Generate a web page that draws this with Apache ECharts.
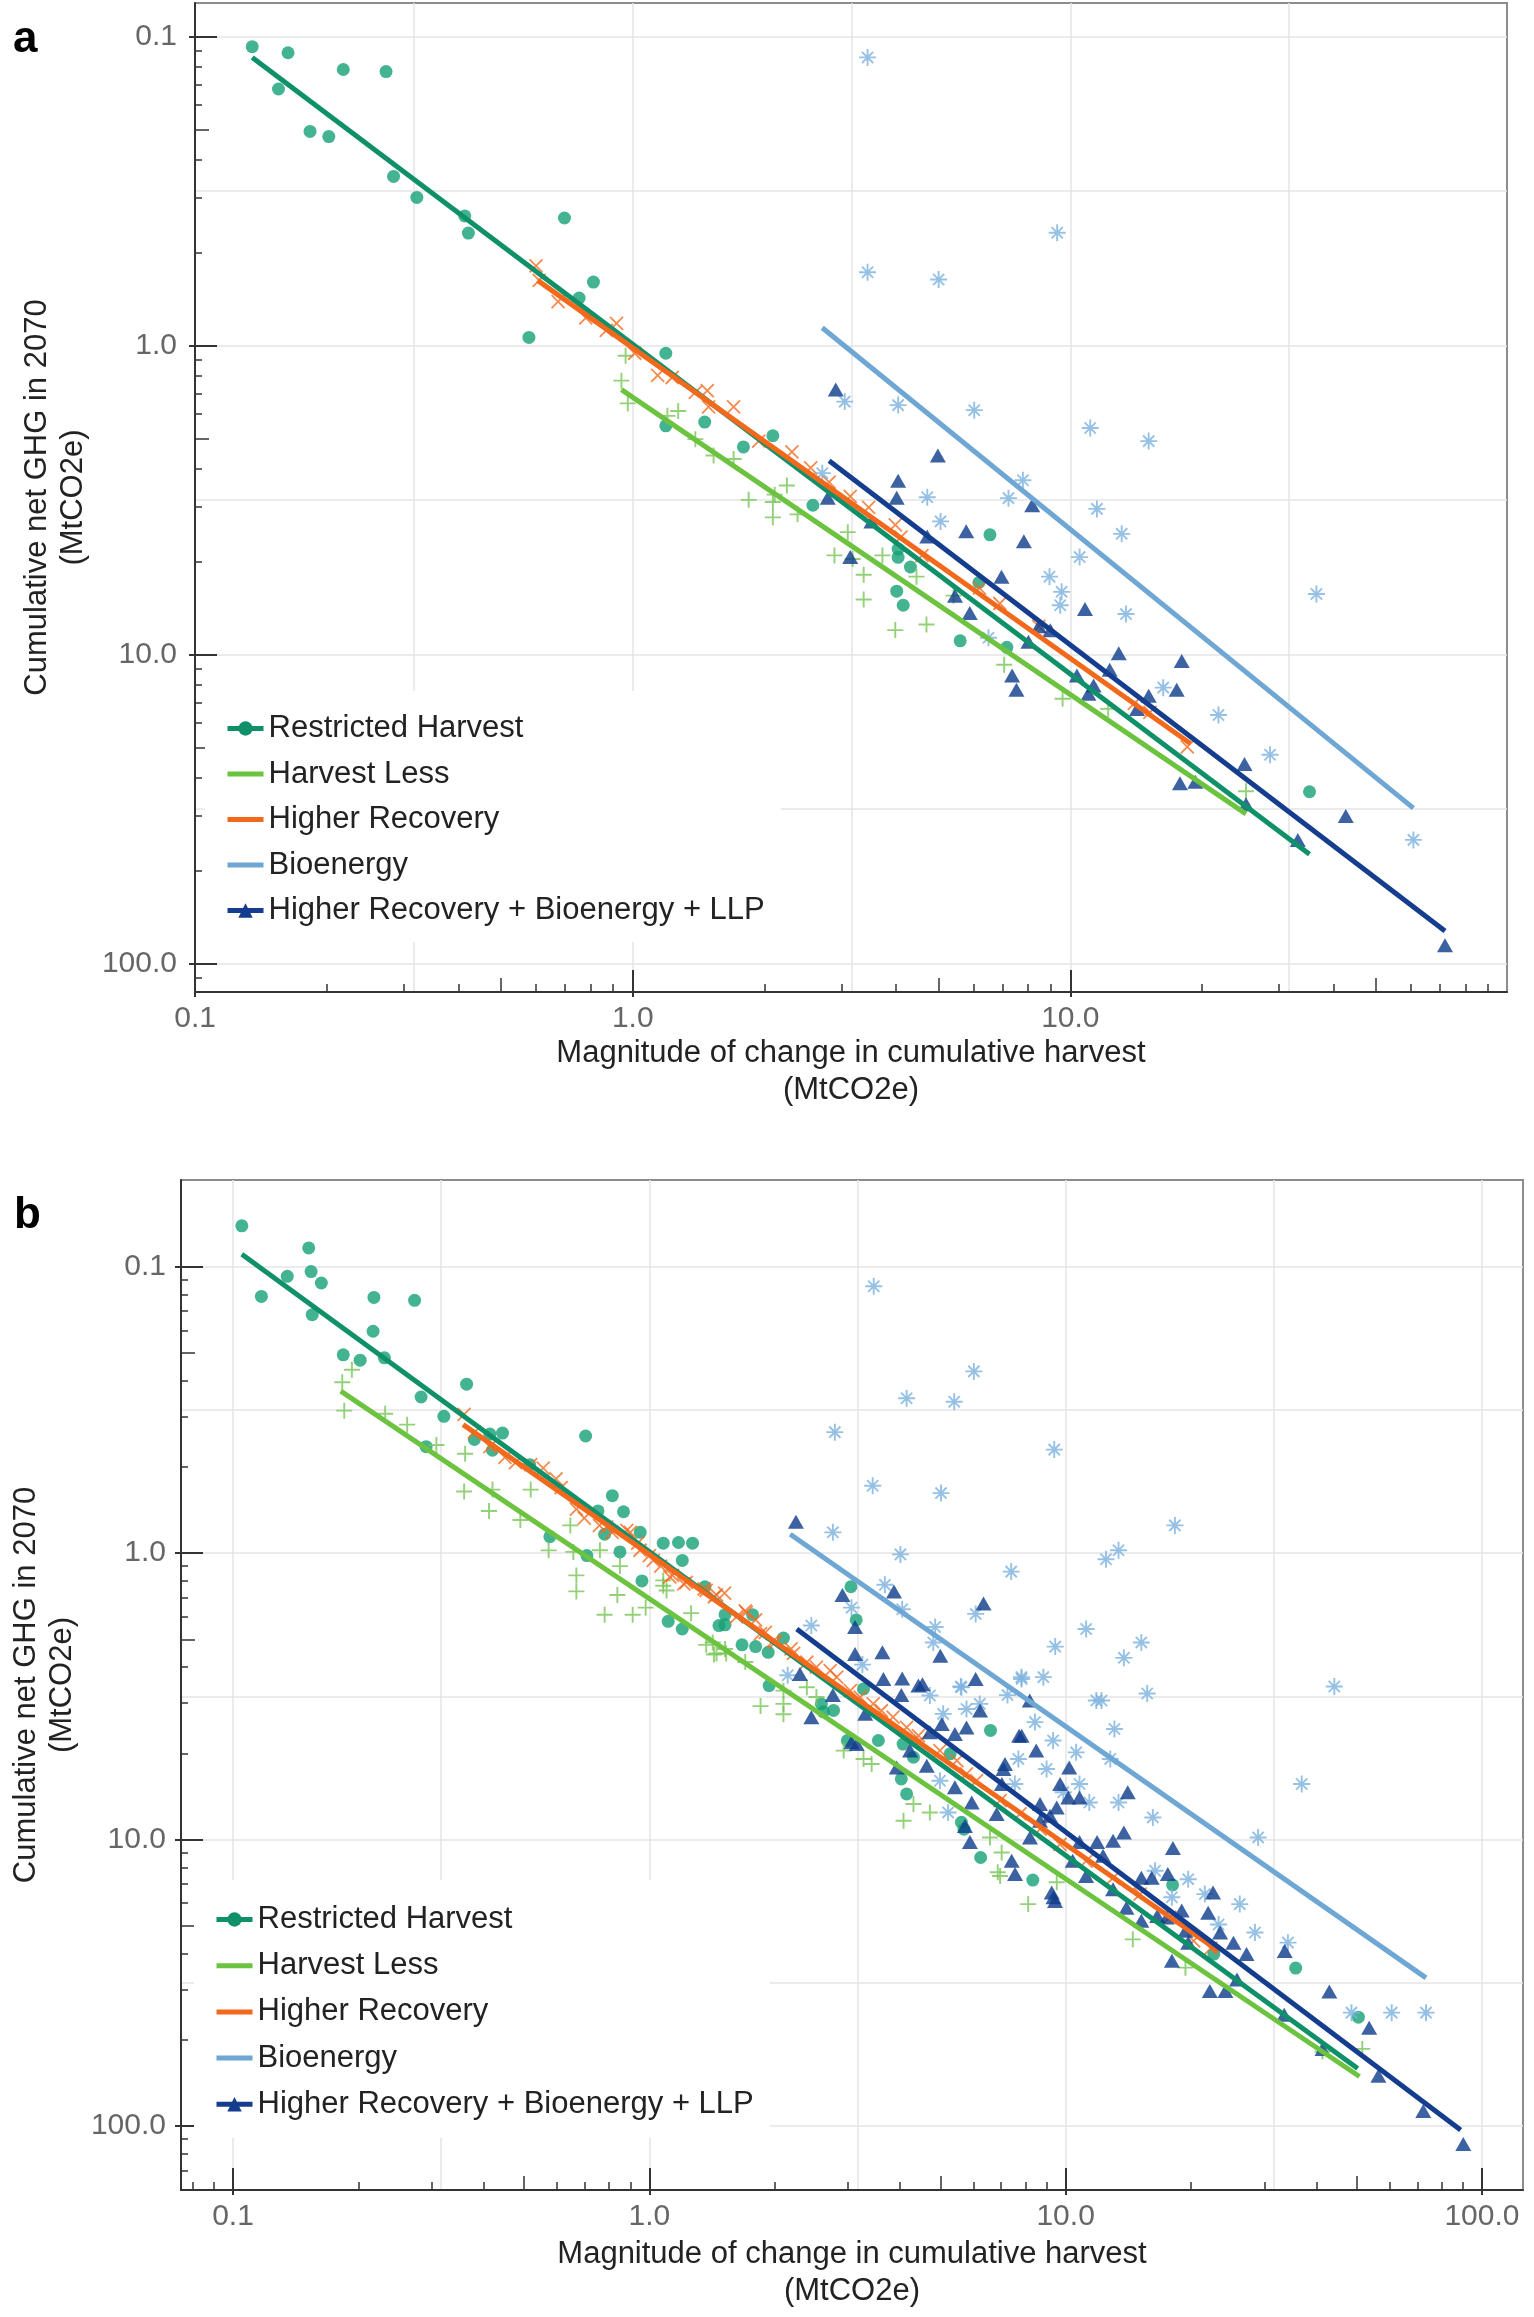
<!DOCTYPE html>
<html><head><meta charset="utf-8">
<script src="https://cdn.jsdelivr.net/npm/echarts@6/dist/echarts.min.js"></script>
<style>html,body{margin:0;padding:0;background:#fff}#c{width:1534px;height:2317px}</style>
</head><body><div id="c"></div>
<script>
// ---------------- DATA ----------------
const seriesNames = ['Restricted Harvest','Harvest Less','Higher Recovery','Bioenergy','Higher Recovery + Bioenergy + LLP'];
const xTitle = 'Magnitude of change in cumulative harvest\n(MtCO2e)';
const yTitle = 'Cumulative net GHG in 2070\n(MtCO2e)';

// Panel a
const aRH = [[0.135,0.108],[0.163,0.113],[0.155,0.148],[0.218,0.128],[0.273,0.130],[0.183,0.203],[0.202,0.211],[0.284,0.284],[0.321,0.332],[0.413,0.381],[0.421,0.433],[0.698,0.387],[0.813,0.624],[0.754,0.703],[0.579,0.942],[1.19,1.06],[1.19,1.82],[1.46,1.77],[1.79,2.13],[2.09,1.96],[2.58,3.29],[6.55,4.10],[4.04,4.56],[4.04,4.85],[4.31,5.21],[4.01,6.24],[4.15,6.93],[6.18,5.85],[5.60,9.03],[7.16,9.48],[35.2,27.8]];
const aHL = [[0.963,1.08],[0.942,1.30],[0.974,1.54],[1.27,1.63],[1.20,1.69],[1.39,2.01],[1.53,2.27],[1.70,2.33],[1.84,3.16],[2.11,3.04],[2.09,3.6],[2.25,2.84],[2.38,3.52],[3.10,4.02],[2.89,4.78],[3.18,4.91],[3.72,4.78],[3.37,5.52],[4.45,5.60],[3.37,6.64],[3.98,8.34],[4.69,8.0],[5.41,6.45],[7.06,10.8],[9.6,13.9],[12.2,15.0],[25.2,27.7],[2.09,3.21]];
const aHR = [[0.601,0.553],[0.611,0.616],[0.675,0.722],[0.781,0.815],[0.918,0.848],[0.870,0.894],[1.01,1.06],[1.14,1.25],[1.23,1.27],[1.39,1.42],[1.48,1.40],[1.49,1.58],[1.70,1.58],[1.94,2.04],[2.31,2.21],[2.55,2.49],[2.81,2.77],[3.14,3.08],[3.46,3.34],[3.98,3.81],[4.1,4.17],[4.58,4.79],[6.2,6.1],[6.9,6.84],[8.47,8.11],[14.0,14.4],[15.2,15.4],[18.5,19.9]];
const aBio = [[3.44,0.117],[9.33,0.432],[3.44,0.58],[5.0,0.612],[3.05,1.52],[4.04,1.56],[6.03,1.62],[11.1,1.85],[15.1,2.04],[2.71,2.59],[7.79,2.73],[4.71,3.10],[7.22,3.12],[11.5,3.38],[5.05,3.71],[13.1,4.07],[10.5,4.84],[8.96,5.6],[9.55,6.27],[9.48,6.93],[13.4,7.4],[36.5,6.37],[6.5,8.83],[16.3,12.8],[21.8,15.7],[28.6,21.1],[60.8,39.8]];
const aHRBL = [[2.91,1.39],[4.98,2.27],[4.04,2.74],[4.01,3.11],[2.79,3.11],[8.18,3.29],[3.51,3.71],[4.71,4.15],[5.78,3.99],[7.83,4.30],[3.14,4.84],[6.96,5.6],[5.45,6.45],[5.89,7.34],[10.8,7.13],[8.47,8.11],[9.0,8.35],[8.02,9.09],[12.9,9.9],[17.97,10.5],[7.36,11.7],[7.53,13.0],[12.3,11.2],[10.35,11.7],[11.3,12.6],[11.0,13.4],[15.1,13.6],[17.5,13.0],[14.2,15.0],[25.0,22.6],[17.8,26.1],[19.3,25.8],[25.2,30.5],[33.1,39.8],[42.6,33.3],[71.8,87.2]];
const aRHfit = [[0.135,0.117],[35.2,44.3]];
const aHLfit = [[0.942,1.39],[25.2,32.8]];
const aHRfit = [[0.606,0.616],[18.8,19.4]];
const aBiofit = [[2.71,0.877],[60.8,31.4]];
const aHRBLfit = [[2.81,2.36],[71.8,78.4]];

// Panel b
const bRH = [[0.105,0.072],[0.117,0.127],[0.135,0.108],[0.152,0.086],[0.154,0.104],[0.163,0.114],[0.155,0.147],[0.218,0.128],[0.273,0.131],[0.217,0.168],[0.184,0.203],[0.202,0.212],[0.231,0.208],[0.364,0.257],[0.283,0.285],[0.321,0.333],[0.414,0.384],[0.444,0.381],[0.38,0.401],[0.42,0.437],[0.291,0.425],[0.703,0.39],[0.516,0.491],[0.815,0.63],[0.867,0.717],[0.753,0.712],[0.781,0.859],[0.951,0.846],[0.577,0.876],[0.708,1.02],[0.85,0.99],[0.96,1.25],[1.08,0.923],[1.175,0.918],[1.27,0.923],[1.20,1.06],[1.11,1.73],[1.20,1.84],[1.47,1.79],[1.52,1.64],[1.77,1.64],[1.67,2.09],[1.80,2.12],[1.93,2.22],[2.10,1.98],[1.94,2.90],[1.36,1.31],[1.52,1.78],[3.05,1.31],[3.14,1.71],[3.27,2.98],[2.59,3.36],[2.77,3.54],[2.62,3.58],[2.99,4.51],[3.55,4.51],[4.07,4.64],[4.31,5.16],[4.03,6.14],[6.60,4.16],[5.28,5.02],[4.15,6.93],[5.62,8.7],[5.7,9.2],[6.25,11.55],[8.34,13.85],[18.07,14.4],[22.7,25.1],[35.7,28.1],[50.5,41.7]];
const bHL = [[0.183,0.253],[0.193,0.229],[0.185,0.318],[0.232,0.326],[0.262,0.356],[0.308,0.419],[0.361,0.45],[0.359,0.609],[0.42,0.60],[0.412,0.713],[0.519,0.60],[0.49,0.766],[0.573,0.978],[0.646,0.80],[0.668,1.196],[0.668,1.36],[0.781,1.64],[0.838,1.40],[0.912,1.64],[0.98,1.55],[0.85,1.11],[1.08,1.30],[1.26,1.62],[1.37,2.09],[1.52,2.16],[1.85,3.42],[2.10,3.36],[2.10,3.65],[1.43,2.26],[0.657,0.99],[0.761,0.977],[1.08,1.245],[1.10,1.35],[1.42,2.05],[1.45,2.24],[1.53,2.24],[1.70,2.40],[2.10,3.02],[2.39,2.94],[2.52,3.18],[2.93,4.89],[3.27,5.23],[3.42,5.45],[4.08,8.6],[4.31,7.51],[4.72,8.04],[6.58,9.83],[7.02,11.1],[6.96,13.4],[8.13,16.8],[9.52,14.1],[14.5,22.3],[19.4,28.0],[41.4,55.0],[51.6,53.8],[6.87,13.0]];
const bHR = [[0.359,0.328],[0.38,0.378],[0.414,0.425],[0.45,0.463],[0.477,0.483],[0.519,0.491],[0.556,0.505],[0.597,0.55],[0.614,0.591],[0.668,0.702],[0.698,0.755],[0.759,0.80],[0.814,0.846],[0.9,0.846],[0.938,0.923],[1.0,1.02],[1.065,1.11],[1.137,1.196],[1.227,1.266],[1.354,1.334],[1.433,1.42],[1.516,1.38],[1.70,1.59],[1.80,1.71],[1.90,1.89],[2.01,2.04],[2.19,2.16],[0.79,0.81],[0.883,0.832],[0.95,0.977],[1.022,1.06],[1.12,1.21],[1.21,1.28],[1.37,1.35],[1.45,1.40],[1.62,1.67],[1.71,1.61],[1.85,1.91],[1.99,2.02],[2.22,2.24],[2.39,2.40],[2.52,2.50],[2.72,2.57],[2.82,2.71],[3.04,3.02],[3.21,3.18],[3.45,3.36],[3.61,3.55],[3.85,3.74],[4.15,4.06],[4.43,4.34],[4.47,4.51],[4.99,4.89],[5.48,5.30],[5.78,5.9],[6.11,6.23],[6.96,7.31],[7.77,8.14],[8.68,9.19],[9.69,10.4],[11.2,11.9],[13.0,13.6],[15.1,15.5],[17.8,18.7],[20.3,22.6],[22.3,24.0]];
const bBio = [[3.46,0.117],[6.02,0.232],[4.15,0.288],[5.40,0.296],[2.79,0.378],[9.39,0.435],[3.44,0.582],[5.02,0.617],[18.3,0.80],[2.76,0.846],[4.01,1.01],[12.5,1.05],[13.4,0.977],[7.40,1.16],[3.68,1.29],[3.06,1.55],[6.08,1.63],[4.05,1.57],[2.45,1.79],[4.86,1.81],[11.2,1.84],[15.2,2.05],[9.44,2.12],[13.8,2.32],[3.25,2.45],[7.83,2.71],[8.84,2.71],[44.2,2.92],[15.7,3.09],[7.25,3.13],[11.85,3.27],[2.15,2.67],[5.6,2.92],[4.81,2.05],[4.72,3.14],[5.62,2.94],[7.84,2.75],[12.2,3.27],[8.44,3.89],[9.33,4.51],[13.1,4.11],[10.6,4.96],[12.8,5.23],[7.7,5.23],[9.0,5.67],[5.08,3.64],[5.78,3.50],[6.22,3.36],[10.8,6.4],[11.4,7.42],[13.4,7.42],[16.2,8.37],[4.99,6.23],[5.22,8.04],[7.55,6.4],[9.87,6.84],[16.4,12.85],[19.7,13.75],[18.0,15.9],[21.6,15.5],[26.2,16.8],[23.3,19.8],[28.5,21.1],[29.0,9.83],[36.9,6.4],[34.2,22.9],[48.6,40.2],[60.7,40.2],[73.4,40.2]];
const bHRBL = [[2.25,0.777],[2.91,1.40],[3.87,1.36],[6.35,1.50],[3.12,1.81],[3.12,2.25],[3.63,2.22],[5.0,2.28],[2.30,2.64],[3.65,2.75],[4.05,2.74],[4.53,2.87],[6.08,2.75],[4.03,3.13],[8.2,3.27],[2.76,3.13],[2.45,3.74],[3.30,3.64],[3.15,4.64],[3.93,5.6],[4.23,4.89],[4.43,2.90],[6.23,3.54],[5.04,3.95],[5.78,4.06],[5.42,4.28],[4.72,4.22],[7.84,4.34],[8.5,4.89],[7.15,5.45],[10.2,5.6],[4.64,5.52],[5.42,6.57],[5.95,7.42],[5.73,8.96],[5.89,10.2],[6.83,8.15],[7.09,5.67],[7.03,6.4],[7.42,11.86],[7.56,13.2],[8.68,7.52],[9.52,7.72],[8.68,8.6],[9.17,8.26],[8.21,9.83],[9.26,15.3],[9.43,16.4],[9.70,6.4],[10.15,7.13],[10.8,7.13],[10.4,11.86],[10.8,10.2],[11.9,10.2],[11.2,13.4],[12.3,11.4],[13.0,10.1],[13.8,9.44],[14.1,6.84],[13.0,14.9],[14.0,17.3],[15.2,13.6],[16.1,13.6],[17.6,13.2],[18.1,10.7],[15.2,19.2],[16.6,18.5],[17.5,18.7],[19.0,17.7],[19.4,20.8],[19.7,22.9],[18.0,26.5],[22.0,18.0],[22.6,15.3],[23.5,21.1],[25.3,22.9],[27.2,25.1],[22.2,33.8],[24.2,33.8],[25.8,30.8],[33.6,24.5],[43.0,33.9],[33.5,40.9],[53.6,45.4],[41.4,53.8],[56.4,66.8],[72.3,88.6],[90.2,115.6],[7.73,4.34],[9.35,15.9],[3.06,4.57]];
const bRHfit = [[0.105,0.0904],[50.3,63.0]];
const bHLfit = [[0.1815,0.272],[50.8,67.2]];
const bHRfit = [[0.357,0.356],[23.3,24.5]];
const bBiofit = [[2.18,0.859],[73.4,30.4]];
const bHRBLfit = [[2.26,1.84],[88.9,103.2]];

// Tick / grid values
const xMajorTicks = [0.1, 1, 10, 100];
const xMidTicks = [0.5, 5, 50];
const xMinorTicks = [0.08,0.09,0.2,0.3,0.4,0.6,0.7,0.8,0.9,2,3,4,6,7,8,9,20,30,40,60,70,80,90];
const yMajorTicks = [0.1, 1, 10, 100];
const yMidTicks = [0.2, 2, 20];
const yMinorTicks = [0.1111,0.125,0.1429,0.1667,0.25,0.3333,0.5,1.111,1.25,1.429,1.667,2.5,3.333,5,11.11,12.5,14.29,16.67,25,33.33,50,111.1,125,142.9,166.7];
const gridVals = [0.1, 0.3162, 1, 3.162, 10, 31.62, 100];

// ---------------- STYLE ----------------
const FONT = 'Liberation Sans, Arial, Helvetica, sans-serif';
const SYM = {
  circle: 'circle',
  triangle: 'triangle',
  plus: 'path://M5,0L5,10M0,5L10,5',
  cross: 'path://M0,0L10,10M10,0L0,10',
  star: 'path://M5,0L5,10M0,5L10,5M1.7,1.7L8.3,8.3M8.3,1.7L1.7,8.3'
};
const STY = [
  {sym: SYM.circle, size: 13, fill: '#15a075', stroke: null, bw: 0, line: '#0f9069'},
  {sym: SYM.plus, size: 16, fill: 'rgba(0,0,0,0)', stroke: '#78c657', bw: 1.9, line: '#6cc33f'},
  {sym: SYM.cross, size: 13, fill: 'rgba(0,0,0,0)', stroke: '#f36b22', bw: 1.8, line: '#f2691c'},
  {sym: SYM.star, size: 17, fill: 'rgba(0,0,0,0)', stroke: '#7cb2de', bw: 1.9, line: '#6ea6d4'},
  {sym: SYM.triangle, size: [16,14], fill: '#0d3b8b', stroke: null, bw: 0, line: '#143d8d'}
];

const inR = (arr, ext) => arr.filter(v => v >= ext[0] && v <= ext[1]);
const fmt = v => Number(v).toFixed(1);

const grids = [], xAxes = [], yAxes = [], lineSeries = [], scatterSeries = [];

function addPanel(g, xExt, yExt, o, pts, fits) {
  const gi = grids.length;
  grids.push(Object.assign({show: true, borderColor: '#8c8c8c', borderWidth: 2, backgroundColor: 'rgba(0,0,0,0)', containLabel: false}, g));
  const xi = xAxes.length, yi = yAxes.length;
  const base = (ext, pos, inv) => ({type: 'log', logBase: 10, gridIndex: gi, min: ext[0], max: ext[1], position: pos, inverse: !!inv,
    axisLine: {show: false, onZero: false}, axisTick: {show: false}, axisLabel: {show: false}, splitLine: {show: false}, silent: true});
  const tickStyle = {color: '#333', width: 2};
  const minorStyle = {color: '#333', width: 1.5};
  xAxes.push(Object.assign(base(xExt, 'bottom'), {axisTick: {show: false, customValues: inR(gridVals, xExt)},
    splitLine: {show: true, customValues: inR(gridVals, xExt), lineStyle: {color: '#e4e4e4', width: 1.5}}}));
  xAxes.push(Object.assign(base(xExt, 'bottom'), {
    axisLine: {show: true, onZero: false, lineStyle: {color: '#333', width: 2}},
    axisTick: {show: true, inside: true, length: 22, customValues: inR(xMajorTicks, xExt), lineStyle: tickStyle},
    axisLabel: {show: true, customValues: inR(xMajorTicks, xExt), formatter: fmt, margin: 12, fontSize: 30, color: '#666', fontFamily: FONT},
    name: xTitle, nameLocation: 'middle', nameGap: o.xNameGap,
    nameTextStyle: {fontSize: 31, color: '#222', fontFamily: FONT, lineHeight: 37}}));
  xAxes.push(Object.assign(base(xExt, 'bottom'), {axisTick: {show: true, inside: true, length: 14, customValues: inR(xMidTicks, xExt), lineStyle: minorStyle}}));
  xAxes.push(Object.assign(base(xExt, 'bottom'), {axisTick: {show: true, inside: true, length: 8, customValues: inR(xMinorTicks, xExt), lineStyle: minorStyle}}));
  xAxes.push(Object.assign(base(xExt, 'bottom'), {axisTick: {show: true, inside: false, length: 5, customValues: inR(xMajorTicks, xExt), lineStyle: tickStyle}}));
  yAxes.push(Object.assign(base(yExt, 'left', true), {axisTick: {show: false, customValues: inR(gridVals, yExt)},
    splitLine: {show: true, customValues: inR(gridVals, yExt), lineStyle: {color: '#e4e4e4', width: 1.5}}}));
  yAxes.push(Object.assign(base(yExt, 'left', true), {
    axisLine: {show: true, onZero: false, lineStyle: {color: '#333', width: 2}},
    axisTick: {show: true, inside: true, length: 22, customValues: inR(yMajorTicks, yExt), lineStyle: tickStyle},
    axisLabel: {show: true, customValues: inR(yMajorTicks, yExt), formatter: fmt, margin: o.yLabelMargin, fontSize: 30, color: '#666', fontFamily: FONT},
    name: yTitle, nameLocation: 'middle', nameRotate: 90, nameGap: o.yNameGap,
    nameTextStyle: {fontSize: 31, color: '#222', fontFamily: FONT, lineHeight: 36}}));
  yAxes.push(Object.assign(base(yExt, 'left', true), {axisTick: {show: true, inside: true, length: 14, customValues: inR(yMidTicks, yExt), lineStyle: minorStyle}}));
  yAxes.push(Object.assign(base(yExt, 'left', true), {axisTick: {show: true, inside: true, length: 7, customValues: inR(yMinorTicks, yExt), lineStyle: minorStyle}}));
  yAxes.push(Object.assign(base(yExt, 'left', true), {axisTick: {show: true, inside: false, length: 6, customValues: inR(yMajorTicks, yExt), lineStyle: tickStyle}}));

  seriesNames.forEach((name, k) => {
    const s = STY[k];
    lineSeries.push({name, type: 'line', xAxisIndex: xi + 1, yAxisIndex: yi + 1, data: fits[k],
      showSymbol: false, symbol: s.sym, symbolSize: 12, lineStyle: {color: s.line, width: 5},
      itemStyle: {color: s.line}, z: 3, silent: true, animation: false});
    const itemStyle = s.stroke ? {color: s.fill, borderColor: s.stroke, borderWidth: s.bw} : {color: s.fill};
    scatterSeries.push({name, type: 'scatter', xAxisIndex: xi + 1, yAxisIndex: yi + 1, data: pts[k],
      symbol: s.sym, symbolSize: s.size, itemStyle, z: 2, silent: true, animation: false});
  });
}

addPanel({left: 195, top: 3, width: 1312, height: 989}, [0.0999, 99.5], [0.078, 123.6],
  {xNameGap: 43, yNameGap: 90, yLabelMargin: 18},
  [aRH, aHL, aHR, aBio, aHRBL], [aRHfit, aHLfit, aHRfit, aBiofit, aHRBLfit]);
addPanel({left: 181, top: 1180, width: 1342, height: 1010}, [0.075, 125.5], [0.0498, 167.3],
  {xNameGap: 46, yNameGap: 98, yLabelMargin: 15},
  [bRH, bHL, bHR, bBio, bHRBL], [bRHfit, bHLfit, bHRfit, bBiofit, bHRBLfit]);

const legendBase = {orient: 'vertical', data: seriesNames, itemWidth: 36, itemHeight: 18, selectedMode: false,
  lineStyle: {width: 5}, itemStyle: {borderWidth: 2},
  backgroundColor: '#ffffff', textStyle: {fontSize: 31, color: '#222', fontFamily: FONT}, z: 10};

const option = {
  animation: false,
  backgroundColor: '#ffffff',
  grid: grids,
  xAxis: xAxes,
  yAxis: yAxes,
  legend: [
    Object.assign({}, legendBase, {left: 205, top: 691, itemGap: 14.5, padding: [22, 16, 16, 20]}),
    Object.assign({}, legendBase, {left: 194, top: 1880, itemGap: 15.2, padding: [24, 16, 18, 20]})
  ],
  graphic: [
    {type: 'text', left: 13, top: 18, style: {text: 'a', font: 'bold 44px ' + FONT, fill: '#000'}},
    {type: 'text', left: 14, top: 1194, style: {text: 'b', font: 'bold 44px ' + FONT, fill: '#000'}}
  ],
  series: lineSeries.concat(scatterSeries)
};

const chart = echarts.init(document.getElementById('c'), null, {renderer: 'canvas', width: 1534, height: 2317});
chart.setOption(option);
</script>
</body></html>
